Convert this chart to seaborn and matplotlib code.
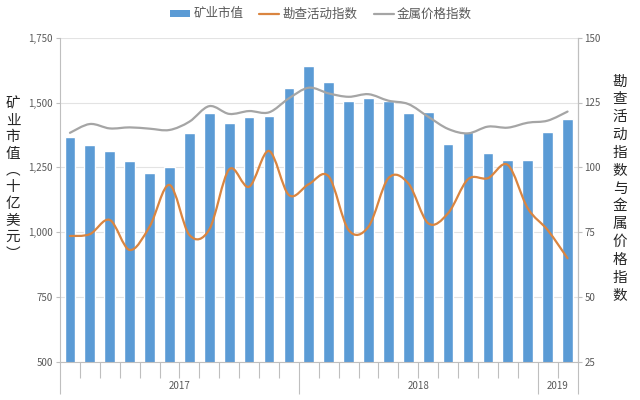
import numpy as np
import pandas as pd
import matplotlib
matplotlib.use("Agg")
import matplotlib.pyplot as plt
import matplotlib.transforms as mtrans
from matplotlib.path import Path
from matplotlib.patches import PathPatch, Patch
from matplotlib.lines import Line2D
import seaborn as sns

# ---------------- data ----------------
months = ["2017-01", "2017-02", "2017-03", "2017-04", "2017-05", "2017-06",
          "2017-07", "2017-08", "2017-09", "2017-10", "2017-11", "2017-12",
          "2018-01", "2018-02", "2018-03", "2018-04", "2018-05", "2018-06",
          "2018-07", "2018-08", "2018-09", "2018-10", "2018-11", "2018-12",
          "2019-01", "2019-02"]
market_value = [1368, 1336, 1313, 1274, 1229, 1250, 1383, 1461, 1422, 1443,
                1448, 1557, 1642, 1580, 1506, 1516, 1506, 1458, 1462, 1341,
                1388, 1306, 1278, 1278, 1388, 1435]
exploration_index = [73.5, 74.2, 79.7, 68.1, 77.1, 93.2, 73.9, 76.0, 99.2, 92.5,
                     106.3, 89.3, 93.5, 96.5, 75.8, 77.1, 95.8, 93.8, 78.4, 82.3,
                     95.4, 95.8, 100.9, 84.2, 75.8, 64.9]
metal_index = [113.3, 116.7, 115.0, 115.4, 114.9, 114.4, 117.6, 123.6, 120.6, 121.7,
               121.2, 126.6, 130.7, 128.5, 127.2, 128.2, 125.7, 124.4, 119.5, 114.8,
               113.1, 115.7, 115.3, 117.2, 118.0, 121.5]
years = ["2017", "2018", "2019"]
year_counts = [12, 12, 2]
left_ticks = [500, 750, 1000, 1250, 1500, 1750]
right_ticks = [25, 50, 75, 100, 125, 150]

labels = {"bar": "矿业市值", "exp": "勘查活动指数", "metal": "金属价格指数"}
left_ylabel = "矿业市值︵十亿美元︶"
right_ylabel = "勘查活动指数与金属价格指数"

BLUE = "#5B9BD5"
ORANGE = "#DA8540"
GRAY = "#A5A5A5"
TXT = "#595959"
AX = "#BFBFBF"

df = pd.DataFrame({"month": months, "value": market_value,
                   "exp": exploration_index, "metal": metal_index})

sns.set_theme(style="white")
plt.rcParams["font.family"] = ["Noto Sans CJK SC", "DejaVu Sans"]

fig = plt.figure(figsize=(6.4, 4.0), dpi=100)
ax = fig.add_axes([60 / 640, 1 - 361.7 / 400, (577.5 - 60) / 640, (361.7 - 37.7) / 400])

sns.barplot(data=df, x="month", y="value", color=BLUE, width=0.54,
            saturation=1, ax=ax, zorder=2)
n = len(months)
ax.set_xlim(-0.5, n - 0.5)
ax.set_ylim(500, 1750)
ax.set_yticks(left_ticks)
ax.set_yticklabels([f"{v:,}" for v in left_ticks], fontsize=7, color=TXT)
ax.yaxis.grid(True, color="#E3E3E3", linewidth=0.8, zorder=0)
ax.set_axisbelow(True)
ax.set_xlabel("")
ax.set_ylabel("")

# x axis: month boundary ticks (minor), year boundary ticks (major)
bounds = np.arange(-0.5, n, 1.0)
year_bounds = [-0.5]
for c in year_counts:
    year_bounds.append(year_bounds[-1] + c)
ax.set_xticks(year_bounds)
ax.set_xticklabels([""] * len(year_bounds))
ax.set_xticks([b for b in bounds if b not in year_bounds], minor=True)
ax.tick_params(axis="x", which="major", length=23, width=0.8, color=AX, bottom=True)
ax.tick_params(axis="x", which="minor", length=11.5, width=0.8, color=AX, bottom=True)
ax.tick_params(axis="y", length=3, width=0.8, color=AX, left=True, pad=2)

trans = mtrans.blended_transform_factory(ax.transData, ax.transAxes)
for yr, lo, hi in zip(years, year_bounds[:-1], year_bounds[1:]):
    ax.text((lo + hi) / 2, -24.5 / 324, yr, transform=trans, ha="center",
            va="center", fontsize=7, color=TXT)

for s in ["left", "bottom", "right"]:
    ax.spines[s].set_color(AX)
    ax.spines[s].set_linewidth(0.8)
ax.spines["top"].set_visible(False)

# secondary axis with smoothed lines
ax2 = ax.twinx()
ax2.set_ylim(25, 150)
ax2.set_yticks(right_ticks)
ax2.set_yticklabels([str(v) for v in right_ticks], fontsize=7, color=TXT)
ax2.tick_params(axis="y", length=3, width=0.8, color=AX, right=True, pad=2)
for s in ["left", "bottom", "top"]:
    ax2.spines[s].set_visible(False)
ax2.spines["right"].set_color(AX)
ax2.spines["right"].set_linewidth(0.8)


def smooth_path(xs, ys):
    xs = np.asarray(xs, float)
    ys = np.asarray(ys, float)
    P = np.column_stack([xs, ys])
    verts = [P[0]]
    codes = [Path.MOVETO]
    m = len(P)
    for i in range(m - 1):
        p0 = P[i - 1] if i > 0 else P[i]
        p1 = P[i]
        p2 = P[i + 1]
        p3 = P[i + 2] if i + 2 < m else P[i + 1]
        c1 = p1 + (p2 - p0) / 6.0
        c2 = p2 - (p3 - p1) / 6.0
        verts += [c1, c2, p2]
        codes += [Path.CURVE4] * 3
    return Path(verts, codes)


xpos = np.arange(n)
for vals, col in [(metal_index, GRAY), (exploration_index, ORANGE)]:
    patch = PathPatch(smooth_path(xpos, vals), facecolor="none", edgecolor=col,
                      linewidth=1.6, capstyle="round", joinstyle="round", zorder=3)
    ax2.add_patch(patch)

# y labels (vertical stacked characters)
fig.text(13 / 640, 1 - 179 / 400, "\n".join(left_ylabel), ha="center", va="center",
         fontsize=10.5, color="#262626", linespacing=1.24)
fig.text(620 / 640, 1 - 188.5 / 400, "\n".join(right_ylabel), ha="center", va="center",
         fontsize=10.5, color="#262626", linespacing=1.35)

# legend
handles = [Patch(facecolor=BLUE, edgecolor="none"),
           Line2D([], [], color=ORANGE, linewidth=1.6),
           Line2D([], [], color=GRAY, linewidth=1.6)]
leg = fig.legend(handles, [labels["bar"], labels["exp"], labels["metal"]],
                 loc="center", bbox_to_anchor=(321 / 640, 1 - 14 / 400), ncol=3,
                 frameon=False, fontsize=9, handlelength=1.6, handleheight=0.5,
                 columnspacing=1.3, handletextpad=0.25, borderaxespad=0)
for t in leg.get_texts():
    t.set_color(TXT)

fig.savefig("out.png", dpi=100)
